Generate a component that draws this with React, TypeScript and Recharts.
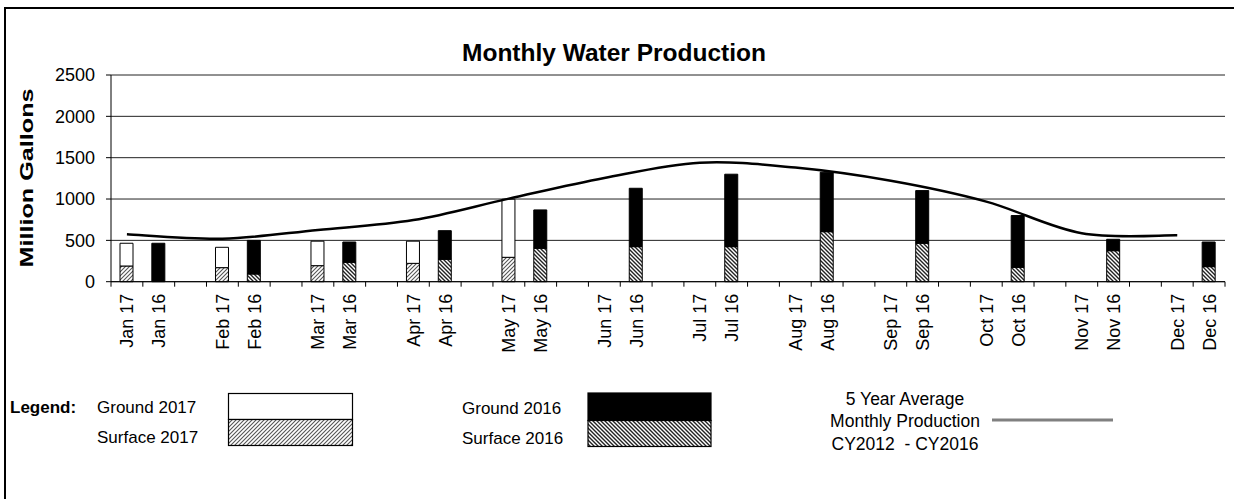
import React from 'react';
import { ComposedChart, Bar, Line, XAxis, YAxis, CartesianGrid } from 'recharts';

const months = ['Jan', 'Feb', 'Mar', 'Apr', 'May', 'Jun', 'Jul', 'Aug', 'Sep', 'Oct', 'Nov', 'Dec'];
const surface2017: (number | null)[] = [190, 170, 194, 222, 295, null, null, null, null, null, null, null];
const ground2017: (number | null)[] = [275, 246, 296, 268, 702, null, null, null, null, null, null, null];
const surface2016: number[] = [0, 93, 235, 271, 404, 424, 424, 605, 465, 174, 375, 182];
const ground2016: number[] = [465, 407, 245, 346, 464, 706, 876, 719, 637, 626, 138, 298];
const avg5yr: number[] = [573, 520, 626, 745, 1005, 1255, 1440, 1380, 1220, 968, 586, 561];
const yTicks = [0, 500, 1000, 1500, 2000, 2500];

type Row = { slot: string; label: string; s17: number; g17: number; s16: number; g16: number; avg?: number };
const data: Row[] = [];
months.forEach((m, i) => {
  data.push({ slot: `${m} 17`, label: `${m} 17`, s17: surface2017[i] ?? 0, g17: ground2017[i] ?? 0, s16: 0, g16: 0, avg: avg5yr[i] });
  data.push({ slot: `${m} 16`, label: `${m} 16`, s17: 0, g17: 0, s16: surface2016[i], g16: ground2016[i] });
  if (i < months.length - 1) data.push({ slot: `${m} -`, label: '', s17: 0, g17: 0, s16: 0, g16: 0 });
});

const FONT = '"Liberation Sans", Arial, sans-serif';
const W = 1234;
const H = 499;
const PLOT_LEFT = 111;
const PLOT_RIGHT = 1225;
const PLOT_TOP = 75;
const PLOT_BOTTOM = 281.7;
const XAXIS_H = 80;
const SLOT = (PLOT_RIGHT - PLOT_LEFT) / data.length;

// Smooth curve in the style of a spreadsheet "smoothed line" (Catmull-Rom Bezier, 1/6 tangents)
const smoothCurve: any = (context: any) => {
  let pts: [number, number][] = [];
  return {
    areaStart() {},
    areaEnd() {},
    lineStart() {
      pts = [];
    },
    lineEnd() {
      if (!pts.length) return;
      context.moveTo(pts[0][0], pts[0][1]);
      for (let i = 0; i < pts.length - 1; i++) {
        const p0 = pts[i - 1] || pts[i];
        const p1 = pts[i];
        const p2 = pts[i + 1];
        const p3 = pts[i + 2] || p2;
        context.bezierCurveTo(
          p1[0] + (p2[0] - p0[0]) / 6,
          p1[1] + (p2[1] - p0[1]) / 6,
          p2[0] - (p3[0] - p1[0]) / 6,
          p2[1] - (p3[1] - p1[1]) / 6,
          p2[0],
          p2[1],
        );
      }
    },
    point(x: number, y: number) {
      pts.push([+x, +y]);
    },
  };
};

const XTick = (props: any) => {
  const { x, y, index } = props;
  const half = SLOT / 2;
  const label = data[index] ? data[index].label : '';
  return (
    <g>
      <line x1={x - half} x2={x - half} y1={y} y2={y + 5} stroke="#000" strokeWidth={1} />
      {index === data.length - 1 && <line x1={x + half} x2={x + half} y1={y} y2={y + 5} stroke="#000" strokeWidth={1} />}
      {label && (
        <text
          transform={`translate(${x},${y + 12}) rotate(-90)`}
          textAnchor="end"
          dy="0.36em"
          fontSize={18}
          fontFamily={FONT}
          fill="#000"
        >
          {label}
        </text>
      )}
    </g>
  );
};

const Patterns = () => (
  <svg width={0} height={0} style={{ position: 'absolute', left: 0, top: 0 }}>
    <defs>
      <pattern id="hatch17" patternUnits="userSpaceOnUse" width={4} height={4}>
        <rect x={0} y={0} width={4} height={4} fill="#fff" />
        <path d="M0,4 L4,0 M-1,1 L1,-1 M3,5 L5,3" stroke="#555" strokeWidth={1.1} />
      </pattern>
      <pattern id="hatch16" patternUnits="userSpaceOnUse" width={4} height={4}>
        <rect x={0} y={0} width={4} height={4} fill="#fff" />
        <path d="M0,0 L4,4 M-1,3 L1,5 M3,-1 L5,1" stroke="#222" strokeWidth={1.4} />
      </pattern>
    </defs>
  </svg>
);

export default function App() {
  return (
    <div style={{ position: 'absolute', left: 0, top: 0, width: W, height: H, background: '#fff', overflow: 'hidden' }}>
      <Patterns />
      <div
        style={{
          position: 'absolute',
          left: 4,
          top: 7,
          width: W - 4,
          height: H - 7,
          borderTop: '2px solid #000',
          borderLeft: '2px solid #000',
          boxSizing: 'border-box',
        }}
      />
      <div style={{ position: 'absolute', left: 0, top: 0 }}>
        <ComposedChart
          width={W}
          height={H}
          data={data}
          margin={{ top: PLOT_TOP, right: W - PLOT_RIGHT, bottom: H - PLOT_BOTTOM - XAXIS_H, left: 0 }}
        >
          <CartesianGrid vertical={false} stroke="#222" strokeWidth={1} />
          <XAxis
            dataKey="slot"
            interval={0}
            height={XAXIS_H}
            tickLine={false}
            tickSize={0}
            tickMargin={0}
            axisLine={{ stroke: '#000', strokeWidth: 1 }}
            tick={<XTick />}
          />
          <YAxis
            width={PLOT_LEFT}
            domain={[0, 2500]}
            ticks={yTicks}
            interval={0}
            tickSize={5}
            tickMargin={11}
            axisLine={{ stroke: '#000', strokeWidth: 1 }}
            tickLine={{ stroke: '#000', strokeWidth: 1 }}
            tick={{ fill: '#000', fontSize: 18, fontFamily: FONT }}
          />
          <YAxis
            yAxisId="r"
            orientation="right"
            width={0}
            domain={[0, 2500]}
            tick={false}
            tickLine={false}
            axisLine={{ stroke: '#808080', strokeWidth: 1.5 }}
          />
          <Bar dataKey="s17" stackId="a" barSize={13} fill="url(#hatch17)" stroke="#000" strokeWidth={1} isAnimationActive={false} />
          <Bar dataKey="g17" stackId="a" barSize={13} fill="#fff" stroke="#000" strokeWidth={1} isAnimationActive={false} />
          <Bar dataKey="s16" stackId="a" barSize={13} fill="url(#hatch16)" stroke="#000" strokeWidth={1} isAnimationActive={false} />
          <Bar dataKey="g16" stackId="a" barSize={13} fill="#000" stroke="#000" strokeWidth={1} isAnimationActive={false} />
          <Line
            dataKey="avg"
            type={smoothCurve}
            connectNulls
            dot={false}
            activeDot={false}
            stroke="#000"
            strokeWidth={2.5}
            isAnimationActive={false}
          />
        </ComposedChart>
      </div>
      <svg width={W} height={H} style={{ position: 'absolute', left: 0, top: 0, pointerEvents: 'none' }}>
        <text x={614} y={61} textAnchor="middle" fontSize={24.5} fontWeight="bold" fontFamily={FONT} fill="#000">
          Monthly Water Production
        </text>
        <text
          transform="translate(33,178) rotate(-90) scale(1.4,1)"
          textAnchor="middle"
          fontSize={18}
          fontWeight="bold"
          fontFamily={FONT}
          fill="#000"
        >
          Million Gallons
        </text>
        <g fontFamily={FONT} fill="#000">
          <text x={10} y={413} fontSize={17} fontWeight="bold">Legend:</text>
          <text x={97} y={413} fontSize={17}>Ground 2017</text>
          <text x={97} y={443} fontSize={17}>Surface 2017</text>
          <rect x={228.5} y={393.5} width={124} height={26} fill="#fff" stroke="#000" strokeWidth={1.2} />
          <rect x={228.5} y={419.5} width={124} height={26} fill="url(#hatch17)" stroke="#000" strokeWidth={1.2} />
          <text x={462} y={414} fontSize={17}>Ground 2016</text>
          <text x={462} y={444} fontSize={17}>Surface 2016</text>
          <rect x={588} y={393} width={123} height={27.5} fill="#000" stroke="#000" strokeWidth={1.2} />
          <rect x={588} y={420.5} width={123} height={26} fill="url(#hatch16)" stroke="#000" strokeWidth={1.2} />
          <text x={905} y={405} fontSize={17.5} textAnchor="middle">5 Year Average</text>
          <text x={905} y={427} fontSize={17.5} textAnchor="middle">Monthly Production</text>
          <text x={905} y={450} fontSize={17.5} textAnchor="middle" xmlSpace="preserve">CY2012  - CY2016</text>
          <line x1={992} x2={1113} y1={420} y2={420} stroke="#808080" strokeWidth={3} />
        </g>
      </svg>
    </div>
  );
}
